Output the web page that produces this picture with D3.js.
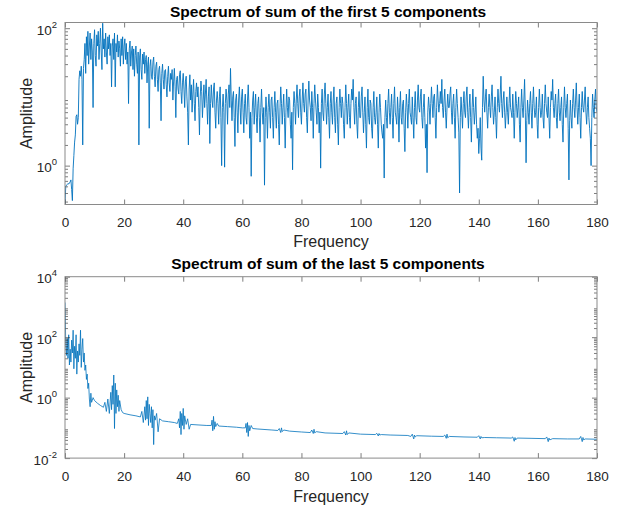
<!DOCTYPE html>
<html>
<head>
<meta charset="utf-8">
<script src="https://cdn.jsdelivr.net/npm/d3@7"></script>
<style>
body { margin: 0; background: #fff; }
svg text { font-family: "Liberation Sans", Arial, sans-serif; }
</style>
</head>
<body>
<svg id="drawing_region"></svg>
<script>
// spectrum of the first 5 components, one value every 0.25 Hz from 0 to 180 (one row = 5 or 10 Hz)
const firstStep = 0.25;
const firstAmp = [
  0.28, 0.5, 0.52, 0.53, 0.55, 0.54, 0.56, 0.58, 0.62, 0.45, 0.31, 0.9, 1.4, 2.2, 2.8, 5.2, 5.5, 4.0, 5.0, 18,
  24, 20, 28, 18, 2.0, 26, 35, 60, 22, 75, 40, 90, 30, 55, 85, 35, 70, 45, 7, 60,
  95, 40, 28, 80, 55, 90, 35, 60, 100, 45, 25, 118, 50, 70, 38, 85, 45, 30, 75, 50,
  80, 40, 60, 14, 55, 70, 35, 85, 14, 60, 45, 80, 38, 65, 50, 28, 70, 40, 75, 30,
  55, 70, 35, 60, 30, 45, 8, 50, 65, 28, 45, 55, 25, 50, 20, 40, 55, 30, 22, 45,
  2.0, 38, 50, 25, 18, 42, 30, 45, 22, 35, 40, 16, 30, 38, 3.5, 28, 35, 20, 18, 32,
  38, 20, 14, 28, 32, 18, 12, 25, 28, 16, 4.5, 22, 30, 18, 13, 24, 25, 15, 10, 20,
  28, 16, 12, 22, 18, 25, 9, 17, 26, 14, 5, 18, 20, 13, 11, 21, 24, 12, 8, 16,
  22, 13, 7, 17, 20, 10, 6, 2.0, 13, 21, 9, 15, 6, 11, 18, 8, 4.5, 12, 16, 10,
  14, 7, 2.8, 10, 17, 12, 5, 9, 15, 7, 11, 18, 8, 4, 10, 14, 2.1, 8, 15, 9,
  7, 13, 16, 6, 3.5, 9, 12, 8, 4, 10, 14, 5, 1.0, 7, 11, 6, 0.95, 8, 13, 9,
  4, 11, 15, 7, 26, 9, 4.5, 10, 12, 5, 1.9, 9, 11, 6, 3, 9, 14, 7, 4, 10,
  13, 6, 3, 8, 11, 5, 4, 9, 15, 7, 2.5, 6, 0.7, 5, 9, 12, 4, 7, 11, 5,
  3, 8, 10, 5, 2.2, 7, 13, 6, 4, 7, 0.52, 5, 10, 6, 2.5, 7, 11, 6, 3.5, 9,
  10, 5, 2.5, 7, 12, 6, 3.5, 8, 9, 4, 2, 7, 14, 8, 4, 7, 11, 5, 1.8, 6,
  13, 7, 5, 10, 9, 4, 2.5, 6, 0.87, 7, 12, 8, 4, 9, 15, 8, 5, 10, 13, 6,
  4, 9, 16, 8, 6, 11, 13, 5, 3, 9, 17, 9, 7, 4.5, 12, 7, 2.5, 8, 15, 9,
  6, 4, 11, 7, 3, 6, 0.92, 8, 13, 6, 4.5, 11, 16, 8, 4, 7, 11, 5, 2.5, 8,
  12, 6, 4, 9, 14, 5, 3, 8, 10, 4, 2, 7, 13, 8, 5, 10, 8, 4, 2.5, 7,
  15, 8, 4, 7, 11, 5, 3.5, 8, 13, 9, 18, 7, 4, 8, 10, 4, 2.5, 7, 12, 5,
  5, 10, 14, 6, 3, 6, 10, 4, 1.8, 7, 13, 5, 4, 9, 8, 3.5, 2.5, 7, 12, 5,
  4, 6, 10, 4, 1.8, 6, 11, 7, 4, 3, 2.5, 4, 0.66, 5, 9, 5, 3.5, 8, 13, 6,
  4, 7, 11, 5, 2.5, 8, 14, 6, 5, 4, 10, 6, 2.2, 7, 12, 5, 4, 8, 9, 3.5,
  1.6, 6, 11, 7, 3.5, 8, 13, 6, 5, 4, 10, 5, 2.5, 7, 12, 5, 4, 9, 15, 7,
  6, 10, 13, 5, 3.5, 7, 11, 5, 1.8, 4, 0.79, 6, 10, 7, 4, 8, 14, 8, 5, 10,
  11, 5, 2.5, 7, 15, 9, 6, 8, 12, 8, 18, 7, 5, 9, 13, 6, 3.5, 7, 11, 7,
  7, 11, 14, 6, 4, 8, 11, 5, 2.5, 7, 13, 8, 5, 3, 0.4, 5, 10, 6, 3.5, 8,
  12, 6, 5, 10, 14, 6, 3.5, 7, 11, 5, 2.2, 7, 13, 7, 4, 6, 10, 4, 2.5, 3.5,
  1.5, 2.5, 5, 1.8, 1.2, 7, 20, 9, 6, 10, 13, 6, 3.5, 7, 11, 7, 5, 10, 15, 7,
  4, 6, 10, 5, 2.5, 7, 13, 8, 6, 11, 20, 8, 5, 9, 12, 6, 3.5, 6, 10, 6,
  4, 8, 14, 7, 6, 5, 11, 6, 2.5, 6, 12, 8, 5, 7, 10, 4, 2.2, 7, 13, 7,
  5, 9, 18, 6, 1.1, 4.5, 9, 6, 4, 8, 12, 6, 3.5, 8, 14, 7, 5, 6, 10, 4,
  2.5, 7, 13, 7, 5, 6, 11, 5, 3.5, 8, 15, 8, 6, 5, 10, 5, 2.5, 7, 12, 9,
  18, 7, 5, 8, 11, 5, 3.5, 8, 13, 6, 4.5, 7, 10, 4, 2.2, 7, 14, 7, 5, 8,
  11, 3.5, 0.62, 4.5, 9, 5, 3.5, 8, 13, 7, 5, 9, 16, 7, 4, 7, 11, 5, 2.5, 7,
  12, 7, 6, 9, 14, 6, 4, 7, 10, 5, 3.5, 2.5, 1.0, 5, 11, 7, 5, 9, 13, 7,
  6
];

// spectrum of the last 5 components, frequency / amplitude pairs
const lastFreq = [
  0, 0.25, 0.5, 0.75, 1, 1.25, 1.5, 1.75, 2, 2.25, 2.5, 2.75, 3, 3.25, 3.5, 3.75, 4, 4.25, 4.5, 4.75,
  5, 5.25, 5.5, 5.75, 6, 6.25, 6.5, 6.75, 7, 7.25, 7.5, 7.75, 8, 8.25, 8.5, 8.75, 9, 9.5, 10, 11,
  12, 13, 13.5, 14, 14.5, 15, 15.5, 15.75, 16, 16.25, 16.5, 16.75, 17, 17.25, 17.5, 17.75, 18, 18.25, 18.5, 19,
  19.5, 20, 22, 24, 25.5, 26, 26.5, 27, 27.25, 27.5, 27.75, 28, 28.25, 28.5, 28.75, 29, 29.25, 29.5, 29.75, 30,
  30.25, 30.5, 31, 31.5, 32, 33, 35, 37, 38, 38.5, 38.75, 39, 39.25, 39.5, 39.75, 40, 40.25, 40.5, 41, 41.5,
  42, 42.5, 45, 48, 49.5, 49.75, 50, 50.25, 50.5, 50.75, 51, 51.5, 52, 55, 58, 60, 61, 61.25, 61.5, 61.75,
  62, 62.25, 62.5, 63, 63.5, 65, 70, 72, 72.5, 73, 73.25, 73.5, 74, 76, 80, 83, 83.5, 84, 84.25, 84.5,
  85, 88, 94, 94.5, 95, 95.25, 95.5, 96, 100, 105, 105.5, 106, 106.25, 106.5, 107, 110, 116, 117, 117.5, 118,
  118.25, 118.5, 119, 124, 128, 128.5, 129, 129.25, 129.5, 130, 135, 139.5, 140, 140.5, 140.75, 141, 142, 146, 151, 151.5,
  152, 152.25, 152.5, 153, 158, 162.5, 163, 163.5, 163.75, 164, 165, 170, 174, 174.5, 175, 175.25, 175.5, 176, 180
];
const lastAmp = [
  1400, 60, 25, 90, 20, 120, 12, 40, 15, 80, 30, 170, 9, 50, 20, 120, 6, 35, 15, 60,
  25, 170, 10, 40, 90, 15, 30, 8, 12, 4, 6, 2, 3, 0.9, 0.5, 1.4, 0.7, 1.0, 0.8, 0.65,
  0.55, 0.48, 0.7, 0.35, 0.9, 0.3, 1.5, 0.4, 2.5, 0.6, 5.6, 0.095, 3.0, 0.3, 1.8, 0.5, 1.2, 0.35, 0.8, 0.4,
  0.32, 0.3, 0.27, 0.25, 0.23, 0.35, 0.15, 0.5, 0.18, 0.8, 0.2, 1.06, 0.12, 0.6, 0.3, 0.15, 0.5, 0.1, 0.4, 0.028,
  0.25, 0.18, 0.3, 0.074, 0.2, 0.17, 0.16, 0.15, 0.14, 0.2, 0.1, 0.35, 0.06, 0.3, 0.12, 0.44, 0.09, 0.25, 0.13, 0.2,
  0.09, 0.13, 0.125, 0.12, 0.12, 0.18, 0.08, 0.24, 0.09, 0.16, 0.11, 0.14, 0.115, 0.11, 0.105, 0.1, 0.1, 0.14, 0.07, 0.15,
  0.052, 0.12, 0.08, 0.12, 0.095, 0.092, 0.085, 0.082, 0.095, 0.07, 0.1, 0.075, 0.085, 0.078, 0.073, 0.07, 0.085, 0.065, 0.09, 0.068,
  0.075, 0.068, 0.065, 0.075, 0.058, 0.08, 0.06, 0.068, 0.062, 0.06, 0.066, 0.054, 0.065, 0.058, 0.06, 0.058, 0.056, 0.052, 0.062, 0.043,
  0.058, 0.05, 0.055, 0.053, 0.052, 0.058, 0.045, 0.062, 0.047, 0.052, 0.05, 0.049, 0.055, 0.043, 0.052, 0.047, 0.048, 0.047, 0.046, 0.05,
  0.036, 0.048, 0.04, 0.046, 0.045, 0.044, 0.05, 0.035, 0.046, 0.04, 0.044, 0.043, 0.043, 0.052, 0.035, 0.048, 0.04, 0.043, 0.042
];

const xTicks = [0, 20, 40, 60, 80, 100, 120, 140, 160, 180];
const firstExponents = [0, 2];
const lastExponents = [-2, 0, 2, 4];
const titles = ["Spectrum of sum of the first 5 components", "Spectrum of sum of the last 5 components"];

const firstData = firstAmp.map((a, i) => ({ f: i * firstStep, a: a }));
const lastData = lastFreq.map((f, i) => ({ f: f, a: lastAmp[i] }));

const svg = d3.select('#drawing_region')
    .attr('width', 622)
    .attr('height', 508);

class SpectrumPlot {

    constructor( config, data ) {
        this.config = config;
        this.data = data;
        this.init();
    }

    init() {
        let self = this;
        const c = self.config;

        self.chart = svg.append('g')
            .attr('transform', `translate(${c.left}, ${c.top})`);

        self.xscale = d3.scaleLinear()
            .domain([0, 180])
            .range([0, c.width]);

        self.yscale = d3.scaleLog()
            .domain(c.ydomain)
            .range([c.height, 0]);
    }

    render() {
        let self = this;
        const c = self.config;
        const w = c.width, h = c.height;

        self.chart.append('clipPath')
            .attr('id', c.id + '_clip')
            .append('rect')
            .attr('width', w)
            .attr('height', h);

        const line = d3.line()
            .x(d => self.xscale(d.f))
            .y(d => self.yscale(d.a));

        self.chart.append('path')
            .datum(self.data)
            .attr('clip-path', `url(#${c.id}_clip)`)
            .attr('fill', 'none')
            .attr('stroke', '#0072BD')
            .attr('stroke-width', c.lineWidth)
            .attr('stroke-linejoin', 'round')
            .attr('d', line);

        // minor ticks of the log axis
        const [lo, hi] = self.yscale.domain();
        const minors = [];
        for (let e = Math.floor(Math.log10(lo)); e <= Math.ceil(Math.log10(hi)); e++)
            for (let m = 2; m <= 9; m++) {
                const v = m * Math.pow(10, e);
                if (v >= lo && v <= hi) minors.push(v);
            }
        const majors = c.exponents.map(e => Math.pow(10, e));

        const tickStyle = g => {
            g.select('.domain').remove();
            g.selectAll('line').attr('stroke', '#262626').attr('stroke-width', 0.6);
        };

        self.chart.append('g')
            .attr('transform', `translate(0, ${h})`)
            .call(d3.axisBottom(self.xscale).tickValues(xTicks).tickSize(-5).tickPadding(13))
            .call(tickStyle)
            .selectAll('text')
            .attr('font-size', '13.5px')
            .attr('fill', '#262626');

        self.chart.append('g')
            .call(d3.axisTop(self.xscale).tickValues(xTicks).tickSize(-5).tickFormat(''))
            .call(tickStyle);

        self.chart.append('g')
            .call(d3.axisLeft(self.yscale).tickValues(minors).tickSize(-3).tickFormat(''))
            .call(tickStyle);
        self.chart.append('g')
            .attr('transform', `translate(${w}, 0)`)
            .call(d3.axisRight(self.yscale).tickValues(minors).tickSize(-3).tickFormat(''))
            .call(tickStyle);
        self.chart.append('g')
            .attr('transform', `translate(${w}, 0)`)
            .call(d3.axisRight(self.yscale).tickValues(majors).tickSize(-5).tickFormat(''))
            .call(tickStyle);

        const yaxis = self.chart.append('g')
            .call(d3.axisLeft(self.yscale).tickValues(majors).tickSize(-5).tickPadding(8).tickFormat(''))
            .call(tickStyle);

        yaxis.selectAll('.tick text')
            .attr('fill', '#262626')
            .attr('font-size', '13.5px')
            .attr('dy', '0.45em')
            .each(function(d) {
                const t = d3.select(this);
                t.append('tspan').text('10');
                t.append('tspan')
                    .attr('font-size', '9.5px')
                    .attr('dy', '-0.75em')
                    .text(Math.round(Math.log10(d)));
            });

        self.chart.append('rect')
            .attr('width', w)
            .attr('height', h)
            .attr('fill', 'none')
            .attr('stroke', '#8a8a8a')
            .attr('stroke-width', 1);

        self.chart.append('text')
            .attr('x', w / 2 - 3)
            .attr('y', c.titleY)
            .attr('text-anchor', 'middle')
            .attr('font-size', '15.5px')
            .attr('font-weight', 'bold')
            .attr('fill', '#000')
            .text(c.title);

        self.chart.append('text')
            .attr('x', w / 2)
            .attr('y', h + c.xlabelGap)
            .attr('text-anchor', 'middle')
            .attr('font-size', '16px')
            .attr('fill', '#262626')
            .text('Frequency');

        self.chart.append('text')
            .attr('transform', `translate(-33, ${h / 2}) rotate(-90)`)
            .attr('text-anchor', 'middle')
            .attr('font-size', '16px')
            .attr('fill', '#262626')
            .text('Amplitude');
    }
}

const top_plot = new SpectrumPlot({
    id: 'first', left: 65, top: 22.5, width: 532, height: 182,
    ydomain: [0.272, 121], exponents: firstExponents, lineWidth: 0.9,
    title: titles[0], titleY: -6, xlabelGap: 42.5
}, firstData);
top_plot.render();

const bottom_plot = new SpectrumPlot({
    id: 'last', left: 65, top: 276.7, width: 532, height: 181.4,
    ydomain: [0.01, 10000], exponents: lastExponents, lineWidth: 0.8,
    title: titles[1], titleY: -8, xlabelGap: 43.5
}, lastData);
bottom_plot.render();
</script>
</body>
</html>
